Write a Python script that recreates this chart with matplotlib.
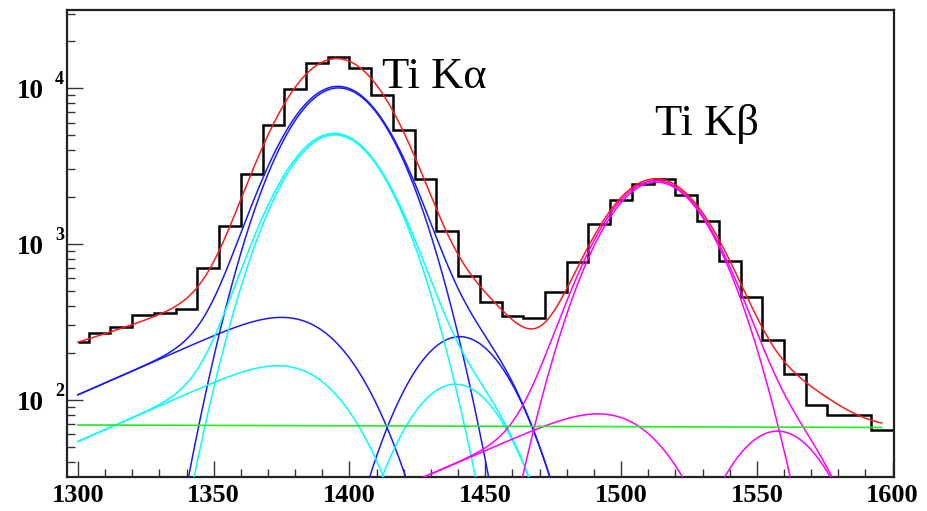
import math
import numpy as np
import matplotlib
matplotlib.use("Agg")
import matplotlib.pyplot as plt
from matplotlib.ticker import MultipleLocator, LogLocator, NullFormatter

# measured spectrum, 8-channel bins starting at channel 1296
bin_start = 1296
bin_width = 8
counts = [236, 267, 292, 352, 361, 383, 698, 1294, 2818, 5760,
          9910, 14350, 15820, 13440, 8980, 5350, 2590, 1202, 618, 427,
          347, 335, 490, 760, 1333, 1919, 2408, 2620, 2067, 1393,
          774, 455, 243, 147, 93, 80, 80, 64]

# fit range
fit_lo, fit_hi = 1300, 1596

# fitted line parameters: Ti Ka1, Ti Ka2, Ti Kb
line_colors = ["#1a1aff", "#00ffff", "#ff00ff"]
peak_pos = [1396.0, 1394.6, 1513.0]
peak_amp = [10000, 5000, 2490]
peak_sigma = [16.3, 16.3, 16.7]
tail_amp = [290, 142, 70]
tail_slope = [57.0, 57.0, 58.0]
sat_amp = [254, 126, 63]
sat_shift = [44.6, 44.4, 44.6]

# linear background at the two ends of the fit range
bg_ends = [69.0, 66.5]

erfc = np.vectorize(math.erfc)


def gauss(x, a, mu, s):
    return a * np.exp(-0.5 * ((x - mu) / s) ** 2)


def low_tail(x, a, mu, s, b):
    return a * np.exp((x - mu) / b) * erfc((x - mu) / (np.sqrt(2) * s) + s / (np.sqrt(2) * b))


x = np.linspace(fit_lo, fit_hi, 1500)
bg = bg_ends[0] + (bg_ends[1] - bg_ends[0]) * (x - fit_lo) / (fit_hi - fit_lo)

fig = plt.figure(figsize=(9.28, 5.11), dpi=100)
ax = fig.add_axes([67 / 928, 1 - 477 / 511, (894 - 67) / 928, (477 - 10) / 511])

edges = bin_start + bin_width * np.arange(len(counts) + 1, dtype=float)
edges[0] = fit_lo
ax.stairs(counts, edges, baseline=None, color="black", lw=1.8, zorder=2)

total = bg.copy()
for col, mu, a, s, ta, tb, sa, ds in zip(line_colors, peak_pos, peak_amp, peak_sigma,
                                         tail_amp, tail_slope, sat_amp, sat_shift):
    g = gauss(x, a, mu, s)
    t = low_tail(x, ta, mu, s, tb)
    h = gauss(x, sa, mu + ds, s)
    for comp in (g, t, h, g + t + h):
        ax.plot(x, comp, color=col, lw=1.1, zorder=3)
    total += g + t + h

ax.plot(x, bg, color="#22ee22", lw=1.2, zorder=3)
ax.plot(x, total, color="#ff1a1a", lw=1.1, zorder=4)

ax.set_yscale("log")
ax.set_xlim(1296, 1600.5)
ax.set_ylim(32, 31600)

ax.xaxis.set_major_locator(MultipleLocator(50))
ax.xaxis.set_minor_locator(MultipleLocator(10))
ax.yaxis.set_major_locator(LogLocator(base=10))
ax.yaxis.set_minor_locator(LogLocator(base=10, subs=np.arange(2, 10)))
ax.yaxis.set_major_formatter(NullFormatter())
ax.yaxis.set_minor_formatter(NullFormatter())
ax.tick_params(which="both", direction="in", top=False, right=False, color="#333333", width=1.0)
ax.tick_params(which="major", length=11.5)
ax.tick_params(which="minor", length=5.5)
ax.tick_params(axis="x", which="major", pad=5)
for lab in ax.get_xticklabels():
    lab.set_fontfamily("Liberation Serif")
    lab.set_fontweight("bold")
    lab.set_fontsize(19)

for sp in ax.spines.values():
    sp.set_linewidth(1.6)
    sp.set_color("#222222")

# decade labels drawn as 10 with a raised exponent
for e in (2, 3, 4):
    ax.annotate("10", xy=(0, 10 ** e), xycoords=("axes fraction", "data"),
                xytext=(-17, -7.2), textcoords="offset points", ha="right", va="baseline",
                family="Liberation Serif", weight="bold", fontsize=19.5)
    ax.annotate(str(e), xy=(0, 10 ** e), xycoords=("axes fraction", "data"),
                xytext=(-8.6, 2.6), textcoords="offset points", ha="left", va="baseline",
                family="Liberation Serif", weight="bold", fontsize=13)

ax.text(1412.0, 10046, "Ti K\u03b1", family="Liberation Serif", fontsize=32,
        ha="left", va="baseline")
ax.text(1512.6, 4966, "Ti K\u03b2", family="Liberation Serif", fontsize=32,
        ha="left", va="baseline")

fig.savefig("out.png", dpi=100)
